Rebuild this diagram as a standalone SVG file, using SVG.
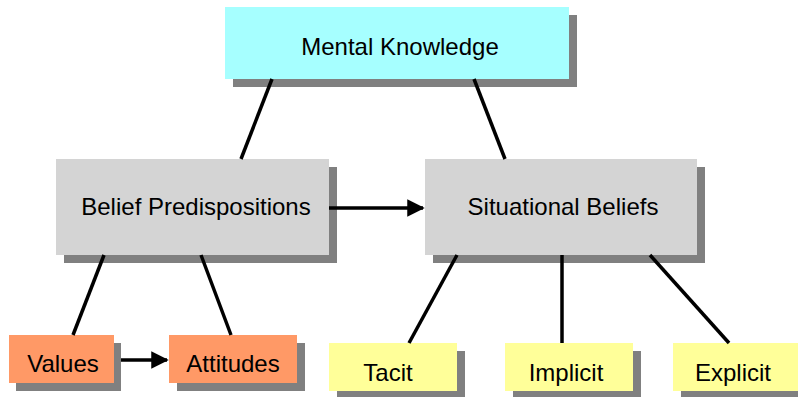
<svg xmlns="http://www.w3.org/2000/svg" width="798" height="397" viewBox="0 0 798 397">
  <style>
    .shadow { fill: #808080; }
    .cyan { fill: #A6FFFF; }
    .grey { fill: #D4D4D4; }
    .orange { fill: #FF9966; }
    .yellow { fill: #FFFF99; }
    .label { font-family: "Liberation Sans", Arial, sans-serif; font-size: 24px; fill: #000; text-anchor: middle; }
    .edge { stroke: #000; stroke-width: 3.5; fill: none; }
  </style>
  <defs>
    <marker id="arrow" markerWidth="5" markerHeight="5" refX="4.5" refY="2.5" orient="auto" markerUnits="strokeWidth">
      <path d="M0,0 L5,2.5 L0,5 Z" fill="#000"/>
    </marker>
  </defs>
  <rect width="798" height="397" fill="#fff"/>

  <g id="mental-knowledge">
    <rect class="shadow" x="233" y="15" width="344" height="72"/>
    <rect class="cyan" x="225" y="7" width="344" height="72"/>
    <text class="label" x="400" y="55">Mental Knowledge</text>
  </g>

  <g id="belief-predispositions">
    <rect class="shadow" x="64" y="167" width="273" height="96"/>
    <rect class="grey" x="56" y="159" width="273" height="96"/>
    <text class="label" x="196" y="215">Belief Predispositions</text>
  </g>

  <g id="situational-beliefs">
    <rect class="shadow" x="433" y="167" width="272" height="96"/>
    <rect class="grey" x="425" y="159" width="272" height="96"/>
    <text class="label" x="563" y="215">Situational Beliefs</text>
  </g>

  <g id="values">
    <rect class="shadow" x="16" y="343" width="105" height="48"/>
    <rect class="orange" x="9" y="335" width="105" height="48"/>
    <text class="label" x="63" y="372">Values</text>
  </g>

  <g id="attitudes">
    <rect class="shadow" x="177" y="343" width="128" height="48"/>
    <rect class="orange" x="169" y="335" width="128" height="48"/>
    <text class="label" x="233" y="372">Attitudes</text>
  </g>

  <g id="tacit">
    <rect class="shadow" x="337" y="351" width="128" height="48"/>
    <rect class="yellow" x="329" y="343" width="128" height="48"/>
    <text class="label" x="388" y="381">Tacit</text>
  </g>

  <g id="implicit">
    <rect class="shadow" x="513" y="351" width="128" height="48"/>
    <rect class="yellow" x="505" y="343" width="128" height="48"/>
    <text class="label" x="566" y="381">Implicit</text>
  </g>

  <g id="explicit">
    <rect class="shadow" x="681" y="351" width="128" height="48"/>
    <rect class="yellow" x="673" y="343" width="128" height="48"/>
    <text class="label" x="733" y="381">Explicit</text>
  </g>

  <!-- connectors are drawn last so they sit over the drop shadows -->
  <g id="connectors">
    <line class="edge" x1="272" y1="79" x2="241" y2="159"/>
    <line class="edge" x1="474" y1="79" x2="505" y2="159"/>
    <line class="edge" x1="104" y1="255" x2="73" y2="335"/>
    <line class="edge" x1="201" y1="255" x2="231" y2="335"/>
    <line class="edge" x1="457" y1="255" x2="409" y2="343"/>
    <line class="edge" x1="562" y1="255" x2="562" y2="343"/>
    <line class="edge" x1="650" y1="255" x2="729" y2="343"/>
    <line class="edge" x1="329" y1="208" x2="423" y2="208" marker-end="url(#arrow)"/>
    <line class="edge" x1="121" y1="360" x2="167" y2="360" marker-end="url(#arrow)"/>
  </g>
</svg>
